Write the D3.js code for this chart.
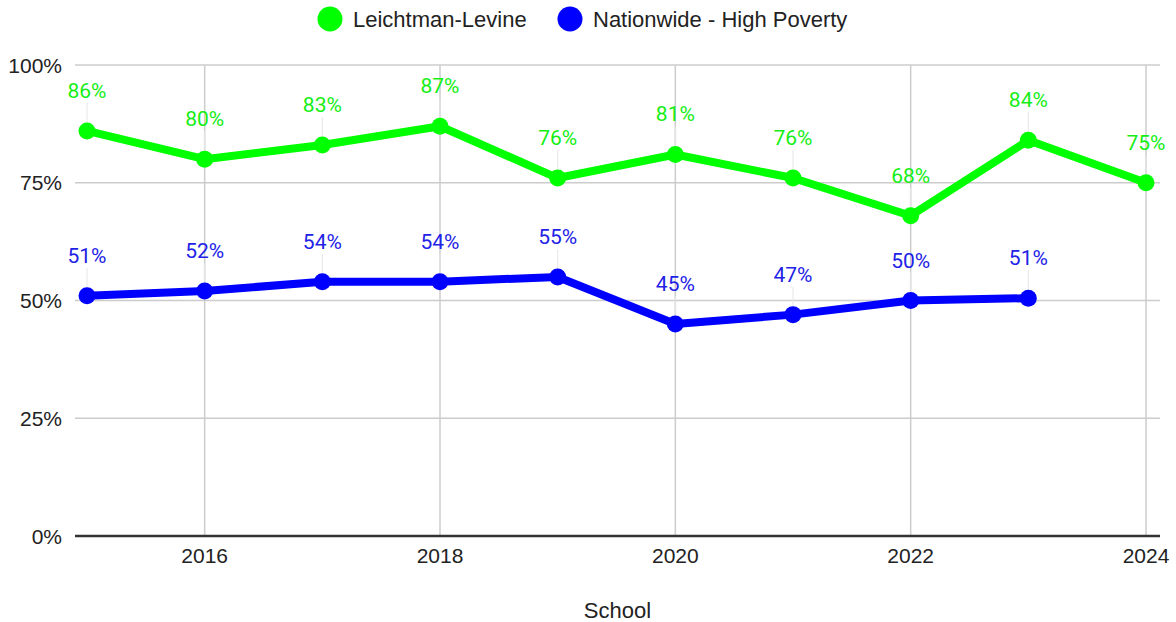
<!DOCTYPE html>
<html>
<head>
<meta charset="utf-8">
<script src="https://cdn.jsdelivr.net/npm/d3@7"></script>
<style>
  body { margin: 0; background: #fff; }
  svg { display: block; }
</style>
</head>
<body>
<div id="chart"></div>
<script>
/* Line chart: Leichtman-Levine vs Nationwide - High Poverty */

const years = [2015, 2016, 2017, 2018, 2019, 2020, 2021, 2022, 2023, 2024];
const leichtman = [86, 80, 83, 87, 76, 81, 76, 68, 84, 75];
const nationwide = [51, 52, 54, 54, 55, 45, 47, 50, 50.5]; // 2015-2023
const yTicks = [0, 25, 50, 75, 100];
const xTicks = [2016, 2018, 2020, 2022, 2024];

const series = [
    { name: "Leichtman-Levine", color: "#00ff00", label: "#14ee14",
      values: leichtman.map((v, i) => ({ year: years[i], value: v })) },
    { name: "Nationwide - High Poverty", color: "#0000ff", label: "#2222e6",
      values: nationwide.map((v, i) => ({ year: years[i], value: v })) }
];

const width = 1176,
      height = 622;

const svg = d3.select("#chart")
    .append("svg")
    .attr("width", width)
    .attr("height", height)
    .style("font-family", "'Liberation Sans', Arial, sans-serif");

const x = d3.scaleLinear()
    .domain([2015, 2024])
    .range([87, 1146]);

const y = d3.scaleLinear()
    .domain([0, 100])
    .range([536, 65]);

const gridLeft = 75, gridRight = 1160;

// horizontal gridlines
svg.append("g")
    .selectAll("line")
    .data(yTicks.filter(d => d > 0))
    .join("line")
    .attr("x1", gridLeft)
    .attr("x2", gridRight)
    .attr("y1", d => y(d))
    .attr("y2", d => y(d))
    .attr("stroke", "#cccccc")
    .attr("stroke-width", 1.5);

// vertical gridlines
svg.append("g")
    .selectAll("line")
    .data(xTicks)
    .join("line")
    .attr("x1", d => x(d))
    .attr("x2", d => x(d))
    .attr("y1", y(100))
    .attr("y2", y(0))
    .attr("stroke", "#cccccc")
    .attr("stroke-width", 1.5);

// baseline
svg.append("line")
    .attr("x1", gridLeft)
    .attr("x2", gridRight)
    .attr("y1", y(0))
    .attr("y2", y(0))
    .attr("stroke", "#333")
    .attr("stroke-width", 2.5);

svg.append("g")
    .selectAll("text")
    .data(yTicks)
    .join("text")
    .attr("x", 62)
    .attr("y", d => y(d))
    .attr("text-anchor", "end")
    .attr("dominant-baseline", "central")
    .attr("font-size", 21)
    .attr("fill", "#222")
    .text(d => d + "%");

svg.append("g")
    .selectAll("text")
    .data(xTicks)
    .join("text")
    .attr("x", d => x(d))
    .attr("y", 563)
    .attr("text-anchor", "middle")
    .attr("font-size", 21)
    .attr("fill", "#222")
    .text(d => d);

// axis title
svg.append("text")
    .attr("x", (gridLeft + gridRight) / 2)
    .attr("y", 618)
    .attr("text-anchor", "middle")
    .attr("font-size", 22)
    .attr("fill", "#222")
    .text("School");

// leader lines from labels to points
for (let s of series) {
    svg.append("g")
        .selectAll("line")
        .data(s.values)
        .join("line")
        .attr("x1", d => x(d.year))
        .attr("x2", d => x(d.year))
        .attr("y1", d => y(d.value) - 28)
        .attr("y2", d => y(d.value))
        .attr("stroke", "#e6e6e6")
        .attr("stroke-width", 1);
}

const line = d3.line()
    .x(d => x(d.year))
    .y(d => y(d.value));

for (let s of series) {
    svg.append("path")
        .datum(s.values)
        .attr("fill", "none")
        .attr("stroke", s.color)
        .attr("stroke-width", 8)
        .attr("stroke-linejoin", "round")
        .attr("d", line);

    svg.append("g")
        .selectAll("circle")
        .data(s.values)
        .join("circle")
        .attr("cx", d => x(d.year))
        .attr("cy", d => y(d.value))
        .attr("r", 8.5)
        .attr("fill", s.color);

    svg.append("g")
        .selectAll("text")
        .data(s.values)
        .join("text")
        .attr("x", d => x(d.year))
        .attr("y", d => y(d.value) - 40)
        .attr("text-anchor", "middle")
        .attr("dominant-baseline", "central")
        .attr("font-family", "Roboto, sans-serif")
        .attr("font-size", 21)
        .attr("fill", s.label)
        .text(d => Math.round(d.value) + "%");
}

// legend
const legendX = [330, 570];
const legend = svg.append("g")
    .selectAll("g")
    .data(series)
    .join("g")
    .attr("transform", (d, i) => `translate(${legendX[i]},19)`);

legend.append("circle")
    .attr("r", 12.5)
    .attr("fill", d => d.color);

legend.append("text")
    .attr("x", 23)
    .attr("dominant-baseline", "central")
    .attr("font-size", 22)
    .attr("fill", "#222")
    .text(d => d.name);
</script>
</body>
</html>
